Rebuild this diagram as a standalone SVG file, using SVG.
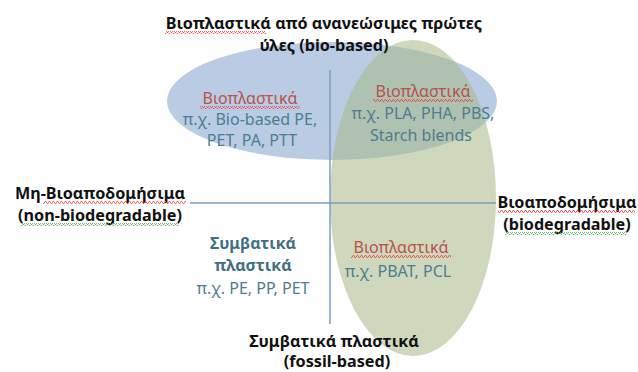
<svg xmlns="http://www.w3.org/2000/svg" width="638" height="372" viewBox="0 0 638 372">
<defs>
<pattern id="sqR" width="4" height="3" patternUnits="userSpaceOnUse"><polyline points="0,2.5 1,0.5 2,0.5 3,2.5 4,2.5" fill="none" stroke="#e8403a" stroke-width="0.8"/></pattern>
<pattern id="sqG" width="4" height="3" patternUnits="userSpaceOnUse"><polyline points="0,2.5 1,0.5 2,0.5 3,2.5 4,2.5" fill="none" stroke="#4caf50" stroke-width="0.8"/></pattern>
</defs>
<style>
text{font-family:"Noto Sans","Open Sans",sans-serif;text-anchor:middle}
.ax{font-size:16.2px;font-weight:bold;fill:#111}
.bp{font-size:16px;fill:#b8524a}
.bd{font-size:16px;fill:#4d7d8c}
.sb{font-size:16px;font-weight:bold;fill:#3f7080}
.ln{stroke:#7d9cc0;stroke-width:1.5;fill:none}
</style>
<rect width="638" height="372" fill="#fff"/>
<g id="bio-based-ellipse"><ellipse cx="332" cy="101" rx="165" ry="59" fill="#b9cce4"/></g>
<g id="biodegradable-ellipse"><ellipse cx="413" cy="198" rx="83" ry="158" fill="#a8b887" fill-opacity="0.55"/></g>
<g id="connectors">
<line class="ln" x1="330" y1="70" x2="330" y2="324"/>
<line class="ln" x1="190" y1="203" x2="496" y2="203"/>
</g>
<g id="title">
<text class="ax" x="324" y="29">Βιοπλαστικά από ανανεώσιμες πρώτες</text>
<text class="ax" x="324" y="51">ύλες (bio-based)</text>
<rect x="165" y="31" width="101" height="3" fill="url(#sqR)"/>
</g>
<g id="bio-nondegradable">
<text class="bp" x="250" y="104">Βιοπλαστικά</text>
<text class="bd" x="250" y="125">π.χ. Bio-based PE,</text>
<text class="bd" x="252" y="146">PET, PA, PTT</text>
<rect x="200" y="106" width="100" height="3" fill="url(#sqR)"/>
</g>
<g id="bio-degradable">
<text class="bp" x="423" y="97">Βιοπλαστικά</text>
<text class="bd" x="423" y="119">π.χ. PLA, PHA, PBS,</text>
<text class="bd" x="421" y="141">Starch blends</text>
<rect x="373" y="99" width="100" height="3" fill="url(#sqR)"/>
</g>
<g id="non-biodegradable-label">
<text class="ax" x="100" y="199">Μη-Βιοαποδομήσιμα</text>
<text class="ax" x="100" y="221">(non-biodegradable)</text>
<rect x="43" y="201" width="143" height="3" fill="url(#sqR)"/>
<rect x="21" y="223" width="158" height="3" fill="url(#sqG)"/>
</g>
<g id="biodegradable-label">
<text class="ax" x="567" y="208">Βιοαποδομήσιμα</text>
<text class="ax" x="567" y="230">(biodegradable)</text>
<rect x="498" y="210" width="137" height="3" fill="url(#sqR)"/>
<rect x="505" y="232" width="122" height="3" fill="url(#sqG)"/>
</g>
<g id="conventional">
<text class="sb" x="253" y="249">Συμβατικά</text>
<text class="sb" x="253" y="271">πλαστικά</text>
<text class="bd" x="253" y="294">π.χ. PE, PP, PET</text>
</g>
<g id="fossil-biodegradable">
<text class="bp" x="401" y="253">Βιοπλαστικά</text>
<text class="bd" x="398" y="277">π.χ. PBAT, PCL</text>
<rect x="351" y="255" width="100" height="3" fill="url(#sqR)"/>
</g>
<g id="fossil-label">
<text class="ax" x="334" y="347">Συμβατικά πλαστικά</text>
<text class="ax" x="337" y="367">(fossil-based)</text>
</g>
</svg>
